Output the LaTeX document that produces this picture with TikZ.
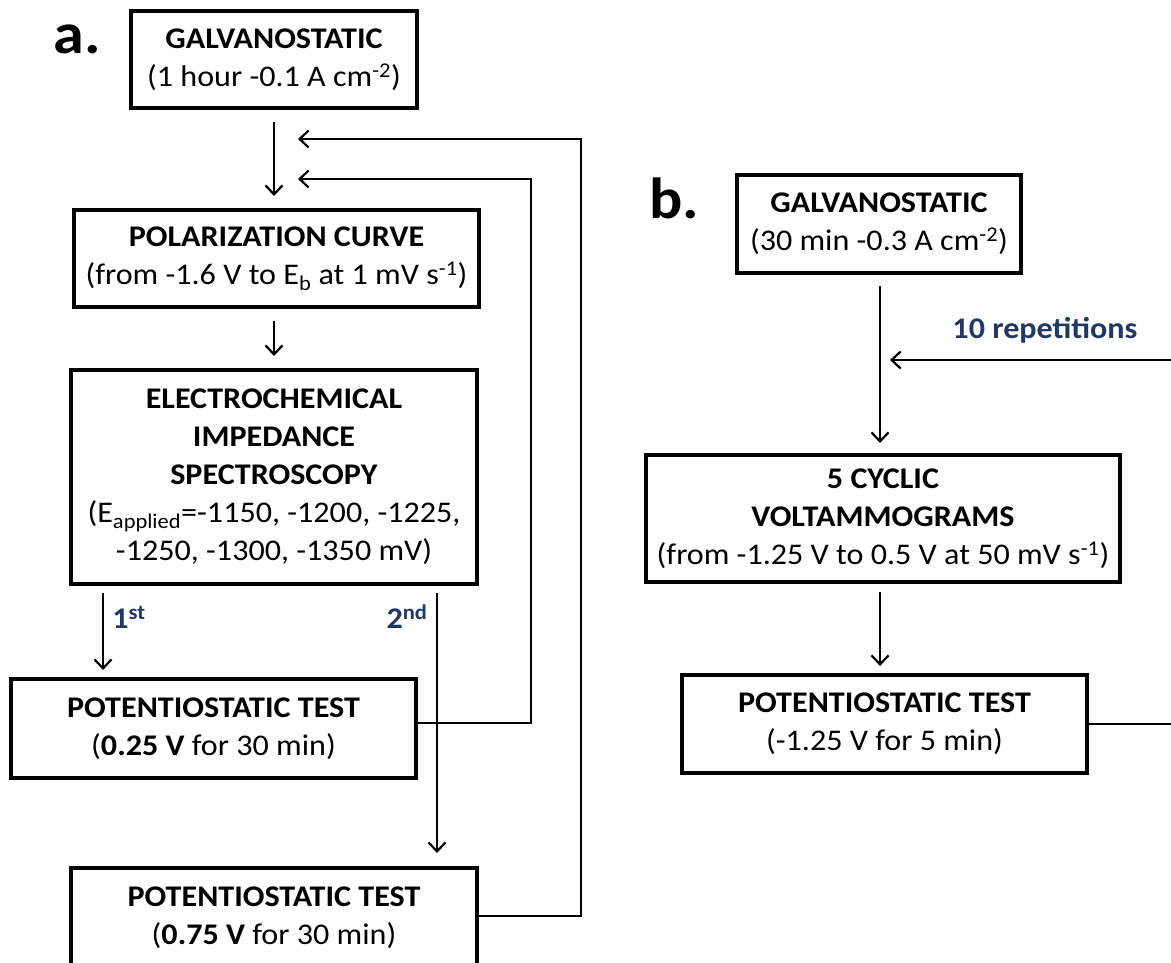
\documentclass[tikz,border=0pt]{standalone}
\usepackage{fontspec}
\setmainfont{Carlito}[FakeStretch=1.07]
\usetikzlibrary{arrows.meta,calc}
\definecolor{navy}{HTML}{1F3864}
\begin{document}
\begin{tikzpicture}[x=1pt,y=-1pt,
  box/.style={draw, line width=4pt, align=center, inner sep=0pt, font=\fontsize{30}{38}\selectfont},
  arr/.style={line width=2.2pt, -{Straight Barb[length=9pt,width=17pt,line width=2.2pt]}},
  lbl/.style={font=\fontsize{30}{36}\selectfont\bfseries, text=navy},
  panel/.style={font=\fontsize{58}{60}\selectfont\bfseries, anchor=base}]
\useasboundingbox (0,0) rectangle (1171,962);
% panel a
\node[panel] (pa) at (77,53) {a.};
\node[box, minimum width=286pt, minimum height=97pt] (g1) at (274,59.5)
  {\textbf{GALVANOSTATIC}\\(1 hour -0.1 A cm\textsuperscript{-2})};
\node[box, minimum width=405pt, minimum height=97pt] (pol) at (276.5,258.5)
  {\textbf{POLARIZATION CURVE}\\(from -1.6 V to E\textsubscript{b} at 1 mV s\textsuperscript{-1})};
\node[box, minimum width=406pt, minimum height=214pt] (eis) at (274,477)
  {\textbf{ELECTROCHEMICAL}\\\textbf{IMPEDANCE}\\\textbf{SPECTROSCOPY}\\(E\textsubscript{applied}=-1150, -1200, -1225,\\-1250, -1300, -1350 mV)};
\node[box, minimum width=405pt, minimum height=99pt] (pt1) at (213.5,728.5)
  {\textbf{POTENTIOSTATIC TEST}\\(\textbf{0.25 V} for 30 min)};
\node[box, minimum width=406pt, minimum height=100pt] (pt2) at (274,918)
  {\textbf{POTENTIOSTATIC TEST}\\(\textbf{0.75 V} for 30 min)};
\coordinate (r1) at (298,139);
\coordinate (r2) at (298,179);
\coordinate (s1) at (103,593);
\coordinate (s2) at (437,593);
\draw[arr, shorten <=12pt, shorten >=12pt] (g1.south) -- (g1.south |- pol.north);
\draw[arr, shorten <=12pt, shorten >=12pt] (g1.south |- pol.south) -- (g1.south |- eis.north);
\draw[arr, shorten >=7pt] (s1) -- (s1 |- pt1.north);
\draw[arr, shorten >=13pt] (s2) -- (s2 |- pt2.north);
\node[lbl] (l1) at (129,617) {1\textsuperscript{st}};
\node[lbl] (l2) at (407,617) {2\textsuperscript{nd}};
\draw[arr] ([yshift=5.5pt]pt1.east) -- ++(113,0) |- (r2);
\draw[arr] ([yshift=2pt]pt2.east) -- ++(102,0) |- (r1);
% panel b
\node[panel] (pb) at (674,218) {b.};
\node[box, minimum width=284pt, minimum height=98pt] (g2) at (879,224)
  {\textbf{GALVANOSTATIC}\\(30 min -0.3 A cm\textsuperscript{-2})};
\node[box, minimum width=474pt, minimum height=127pt] (cv) at (883,518.5)
  {\textbf{5 CYCLIC}\\\textbf{VOLTAMMOGRAMS}\\(from -1.25 V to 0.5 V at 50 mV s\textsuperscript{-1})};
\node[box, minimum width=405pt, minimum height=98pt] (pt3) at (884.5,724)
  {\textbf{POTENTIOSTATIC TEST}\\(-1.25 V for 5 min)};
\coordinate (bx) at (880,0);
\coordinate (r3) at (890,360);
\draw[arr, shorten <=11pt, shorten >=10pt] (g2.south -| bx) -- (bx |- cv.north);
\draw[arr, shorten <=8pt, shorten >=7pt] (cv.south -| bx) -- (bx |- pt3.north);
\node[lbl] (rep) at (1045,330) {10 repetitions};
\draw[arr] (pt3.east) -- ++(110,0) |- (r3);
\end{tikzpicture}
\end{document}
